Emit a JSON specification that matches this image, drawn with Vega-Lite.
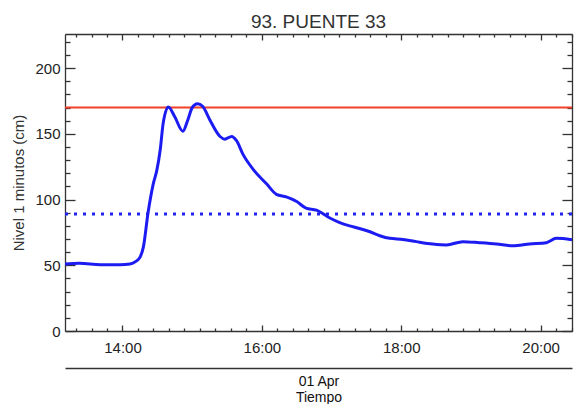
{
  "$schema": "https://vega.github.io/schema/vega-lite/v6.json",
  "width": 507,
  "height": 297,
  "autosize": {"type": "none"},
  "padding": {"left": 65, "top": 34, "right": 2, "bottom": 73},
  "background": "white",
  "title": {"text": "93. PUENTE 33", "fontSize": 19, "font": "Liberation Sans", "fontWeight": "normal", "color": "#333333", "offset": -18, "baseline": "bottom", "anchor": "middle"},
  "config": {
    "view": {"stroke": null},
    "axis": {"domainColor": "#333333", "tickColor": "#333333", "labelColor": "#222222", "titleColor": "#333333", "labelFont": "Liberation Sans", "titleFont": "Liberation Sans", "grid": false, "domainWidth": 1.3, "tickWidth": 1.3}
  },
  "datasets": {
    "nivel": [
      {"tiempo": "2024-04-01T13:10:30", "nivel": 51},
      {"tiempo": "2024-04-01T13:23:00", "nivel": 51.5},
      {"tiempo": "2024-04-01T13:41:00", "nivel": 50.5},
      {"tiempo": "2024-04-01T13:58:00", "nivel": 50.5},
      {"tiempo": "2024-04-01T14:06:30", "nivel": 51},
      {"tiempo": "2024-04-01T14:11:30", "nivel": 53},
      {"tiempo": "2024-04-01T14:15:00", "nivel": 56},
      {"tiempo": "2024-04-01T14:18:00", "nivel": 64},
      {"tiempo": "2024-04-01T14:22:00", "nivel": 90},
      {"tiempo": "2024-04-01T14:26:30", "nivel": 112},
      {"tiempo": "2024-04-01T14:29:30", "nivel": 122},
      {"tiempo": "2024-04-01T14:32:30", "nivel": 138},
      {"tiempo": "2024-04-01T14:35:00", "nivel": 158},
      {"tiempo": "2024-04-01T14:39:30", "nivel": 170.5},
      {"tiempo": "2024-04-01T14:45:00", "nivel": 163},
      {"tiempo": "2024-04-01T14:52:00", "nivel": 152},
      {"tiempo": "2024-04-01T14:56:00", "nivel": 160},
      {"tiempo": "2024-04-01T15:00:00", "nivel": 170},
      {"tiempo": "2024-04-01T15:04:30", "nivel": 173},
      {"tiempo": "2024-04-01T15:09:00", "nivel": 171},
      {"tiempo": "2024-04-01T15:15:00", "nivel": 161},
      {"tiempo": "2024-04-01T15:24:00", "nivel": 148},
      {"tiempo": "2024-04-01T15:28:00", "nivel": 146},
      {"tiempo": "2024-04-01T15:34:00", "nivel": 148},
      {"tiempo": "2024-04-01T15:38:00", "nivel": 145},
      {"tiempo": "2024-04-01T15:44:00", "nivel": 134},
      {"tiempo": "2024-04-01T15:52:30", "nivel": 123},
      {"tiempo": "2024-04-01T16:04:00", "nivel": 112},
      {"tiempo": "2024-04-01T16:12:30", "nivel": 104},
      {"tiempo": "2024-04-01T16:21:00", "nivel": 102},
      {"tiempo": "2024-04-01T16:30:00", "nivel": 98.5},
      {"tiempo": "2024-04-01T16:38:00", "nivel": 93.5},
      {"tiempo": "2024-04-01T16:47:00", "nivel": 92},
      {"tiempo": "2024-04-01T16:58:30", "nivel": 86},
      {"tiempo": "2024-04-01T17:07:00", "nivel": 82.5},
      {"tiempo": "2024-04-01T17:15:30", "nivel": 80},
      {"tiempo": "2024-04-01T17:24:00", "nivel": 78},
      {"tiempo": "2024-04-01T17:33:00", "nivel": 75.5},
      {"tiempo": "2024-04-01T17:41:30", "nivel": 72.5},
      {"tiempo": "2024-04-01T17:50:00", "nivel": 70.5},
      {"tiempo": "2024-04-01T18:01:30", "nivel": 69.7},
      {"tiempo": "2024-04-01T18:13:00", "nivel": 68},
      {"tiempo": "2024-04-01T18:27:00", "nivel": 66.2},
      {"tiempo": "2024-04-01T18:39:00", "nivel": 65.5},
      {"tiempo": "2024-04-01T18:53:00", "nivel": 68},
      {"tiempo": "2024-04-01T19:07:30", "nivel": 67.2},
      {"tiempo": "2024-04-01T19:22:00", "nivel": 66.2},
      {"tiempo": "2024-04-01T19:36:00", "nivel": 64.8},
      {"tiempo": "2024-04-01T19:50:30", "nivel": 66.2},
      {"tiempo": "2024-04-01T20:05:00", "nivel": 67.2},
      {"tiempo": "2024-04-01T20:13:30", "nivel": 70.5},
      {"tiempo": "2024-04-01T20:27:00", "nivel": 69.5}
    ]
  },
  "resolve": {"scale": {"x": "independent", "y": "independent"}, "axis": {"x": "independent", "y": "independent"}},
  "layer": [
    {
      "data": {"values": [{"umbral": 170}]},
      "mark": {"type": "rule", "color": "#f2402b", "strokeWidth": 2},
      "encoding": {
        "y": {"field": "umbral", "type": "quantitative", "scale": {"domain": [0, 226], "nice": false, "zero": false}, "axis": null}
      }
    },
    {
      "data": {"values": [{"umbral": 89}]},
      "mark": {"type": "rule", "color": "#2222f0", "strokeWidth": 3, "strokeDash": [3, 6], "strokeCap": "butt"},
      "encoding": {
        "y": {"field": "umbral", "type": "quantitative", "scale": {"domain": [0, 226], "nice": false, "zero": false}, "axis": null}
      }
    },
    {
      "data": {"name": "nivel"},
      "mark": {"type": "line", "strokeOpacity": 0},
      "encoding": {
        "x": {"field": "tiempo", "type": "temporal",
          "scale": {"domain": [{"year": 2024, "month": 4, "date": 1, "hours": 13, "minutes": 10, "seconds": 30}, {"year": 2024, "month": 4, "date": 1, "hours": 20, "minutes": 27, "seconds": 0}], "nice": false},
          "axis": {"orient": "top", "labels": false, "title": null, "domain": true,
            "values": [
              {"year": 2024, "month": 4, "date": 1, "hours": 13, "minutes": 20, "seconds": 0},
              {"year": 2024, "month": 4, "date": 1, "hours": 13, "minutes": 33, "seconds": 20},
              {"year": 2024, "month": 4, "date": 1, "hours": 13, "minutes": 46, "seconds": 40},
              {"year": 2024, "month": 4, "date": 1, "hours": 14, "minutes": 0, "seconds": 0},
              {"year": 2024, "month": 4, "date": 1, "hours": 14, "minutes": 13, "seconds": 20},
              {"year": 2024, "month": 4, "date": 1, "hours": 14, "minutes": 26, "seconds": 40},
              {"year": 2024, "month": 4, "date": 1, "hours": 14, "minutes": 40, "seconds": 0},
              {"year": 2024, "month": 4, "date": 1, "hours": 14, "minutes": 53, "seconds": 20},
              {"year": 2024, "month": 4, "date": 1, "hours": 15, "minutes": 6, "seconds": 40},
              {"year": 2024, "month": 4, "date": 1, "hours": 15, "minutes": 20, "seconds": 0},
              {"year": 2024, "month": 4, "date": 1, "hours": 15, "minutes": 33, "seconds": 20},
              {"year": 2024, "month": 4, "date": 1, "hours": 15, "minutes": 46, "seconds": 40},
              {"year": 2024, "month": 4, "date": 1, "hours": 16, "minutes": 0, "seconds": 0},
              {"year": 2024, "month": 4, "date": 1, "hours": 16, "minutes": 13, "seconds": 20},
              {"year": 2024, "month": 4, "date": 1, "hours": 16, "minutes": 26, "seconds": 40},
              {"year": 2024, "month": 4, "date": 1, "hours": 16, "minutes": 40, "seconds": 0},
              {"year": 2024, "month": 4, "date": 1, "hours": 16, "minutes": 53, "seconds": 20},
              {"year": 2024, "month": 4, "date": 1, "hours": 17, "minutes": 6, "seconds": 40},
              {"year": 2024, "month": 4, "date": 1, "hours": 17, "minutes": 20, "seconds": 0},
              {"year": 2024, "month": 4, "date": 1, "hours": 17, "minutes": 33, "seconds": 20},
              {"year": 2024, "month": 4, "date": 1, "hours": 17, "minutes": 46, "seconds": 40},
              {"year": 2024, "month": 4, "date": 1, "hours": 18, "minutes": 0, "seconds": 0},
              {"year": 2024, "month": 4, "date": 1, "hours": 18, "minutes": 13, "seconds": 20},
              {"year": 2024, "month": 4, "date": 1, "hours": 18, "minutes": 26, "seconds": 40},
              {"year": 2024, "month": 4, "date": 1, "hours": 18, "minutes": 40, "seconds": 0},
              {"year": 2024, "month": 4, "date": 1, "hours": 18, "minutes": 53, "seconds": 20},
              {"year": 2024, "month": 4, "date": 1, "hours": 19, "minutes": 6, "seconds": 40},
              {"year": 2024, "month": 4, "date": 1, "hours": 19, "minutes": 20, "seconds": 0},
              {"year": 2024, "month": 4, "date": 1, "hours": 19, "minutes": 33, "seconds": 20},
              {"year": 2024, "month": 4, "date": 1, "hours": 19, "minutes": 46, "seconds": 40},
              {"year": 2024, "month": 4, "date": 1, "hours": 20, "minutes": 0, "seconds": 0},
              {"year": 2024, "month": 4, "date": 1, "hours": 20, "minutes": 13, "seconds": 20},
              {"year": 2024, "month": 4, "date": 1, "hours": 20, "minutes": 26, "seconds": 40}
            ],
            "tickSize": {"condition": {"test": "minutes(datum.value) === 0 && hours(datum.value) % 2 === 0", "value": -6}, "value": -3}
          }
        },
        "y": {"field": "nivel", "type": "quantitative", "scale": {"domain": [0, 226], "nice": false, "zero": false},
          "axis": {"orient": "right", "labels": false, "title": null, "domain": true,
            "values": [0, 10, 20, 30, 40, 50, 60, 70, 80, 90, 100, 110, 120, 130, 140, 150, 160, 170, 180, 190, 200, 210, 220],
            "tickSize": {"condition": {"test": "datum.value % 50 === 0", "value": -10}, "value": -5}
          }
        }
      }
    },
    {
      "data": {"name": "nivel"},
      "mark": {"type": "line", "strokeOpacity": 0},
      "encoding": {
        "x": {"field": "tiempo", "type": "temporal",
          "scale": {"domain": [{"year": 2024, "month": 4, "date": 1, "hours": 13, "minutes": 10, "seconds": 30}, {"year": 2024, "month": 4, "date": 1, "hours": 20, "minutes": 27, "seconds": 0}], "nice": false},
          "axis": {"orient": "bottom", "offset": 37, "labels": false, "ticks": false, "domain": true, "domainWidth": 1.5,
            "title": ["01 Apr", "Tiempo"], "titleFontSize": 14, "titleFontWeight": "normal", "titlePadding": 6, "titleLineHeight": 16, "titleColor": "#111111"}
        },
        "y": {"field": "nivel", "type": "quantitative", "scale": {"domain": [0, 226], "nice": false, "zero": false}, "axis": null}
      }
    },
    {
      "data": {"name": "nivel"},
      "mark": {"type": "line", "color": "#1c1cf2", "strokeWidth": 3, "clip": true, "interpolate": "monotone"},
      "encoding": {
        "x": {"field": "tiempo", "type": "temporal",
          "scale": {"domain": [{"year": 2024, "month": 4, "date": 1, "hours": 13, "minutes": 10, "seconds": 30}, {"year": 2024, "month": 4, "date": 1, "hours": 20, "minutes": 27, "seconds": 0}], "nice": false},
          "axis": {"orient": "bottom", "title": null, "domain": true, "labelFontSize": 15, "labelPadding": 15, "labelFlush": false, "labelOverlap": false,
            "values": [
              {"year": 2024, "month": 4, "date": 1, "hours": 13, "minutes": 20, "seconds": 0},
              {"year": 2024, "month": 4, "date": 1, "hours": 13, "minutes": 33, "seconds": 20},
              {"year": 2024, "month": 4, "date": 1, "hours": 13, "minutes": 46, "seconds": 40},
              {"year": 2024, "month": 4, "date": 1, "hours": 14, "minutes": 0, "seconds": 0},
              {"year": 2024, "month": 4, "date": 1, "hours": 14, "minutes": 13, "seconds": 20},
              {"year": 2024, "month": 4, "date": 1, "hours": 14, "minutes": 26, "seconds": 40},
              {"year": 2024, "month": 4, "date": 1, "hours": 14, "minutes": 40, "seconds": 0},
              {"year": 2024, "month": 4, "date": 1, "hours": 14, "minutes": 53, "seconds": 20},
              {"year": 2024, "month": 4, "date": 1, "hours": 15, "minutes": 6, "seconds": 40},
              {"year": 2024, "month": 4, "date": 1, "hours": 15, "minutes": 20, "seconds": 0},
              {"year": 2024, "month": 4, "date": 1, "hours": 15, "minutes": 33, "seconds": 20},
              {"year": 2024, "month": 4, "date": 1, "hours": 15, "minutes": 46, "seconds": 40},
              {"year": 2024, "month": 4, "date": 1, "hours": 16, "minutes": 0, "seconds": 0},
              {"year": 2024, "month": 4, "date": 1, "hours": 16, "minutes": 13, "seconds": 20},
              {"year": 2024, "month": 4, "date": 1, "hours": 16, "minutes": 26, "seconds": 40},
              {"year": 2024, "month": 4, "date": 1, "hours": 16, "minutes": 40, "seconds": 0},
              {"year": 2024, "month": 4, "date": 1, "hours": 16, "minutes": 53, "seconds": 20},
              {"year": 2024, "month": 4, "date": 1, "hours": 17, "minutes": 6, "seconds": 40},
              {"year": 2024, "month": 4, "date": 1, "hours": 17, "minutes": 20, "seconds": 0},
              {"year": 2024, "month": 4, "date": 1, "hours": 17, "minutes": 33, "seconds": 20},
              {"year": 2024, "month": 4, "date": 1, "hours": 17, "minutes": 46, "seconds": 40},
              {"year": 2024, "month": 4, "date": 1, "hours": 18, "minutes": 0, "seconds": 0},
              {"year": 2024, "month": 4, "date": 1, "hours": 18, "minutes": 13, "seconds": 20},
              {"year": 2024, "month": 4, "date": 1, "hours": 18, "minutes": 26, "seconds": 40},
              {"year": 2024, "month": 4, "date": 1, "hours": 18, "minutes": 40, "seconds": 0},
              {"year": 2024, "month": 4, "date": 1, "hours": 18, "minutes": 53, "seconds": 20},
              {"year": 2024, "month": 4, "date": 1, "hours": 19, "minutes": 6, "seconds": 40},
              {"year": 2024, "month": 4, "date": 1, "hours": 19, "minutes": 20, "seconds": 0},
              {"year": 2024, "month": 4, "date": 1, "hours": 19, "minutes": 33, "seconds": 20},
              {"year": 2024, "month": 4, "date": 1, "hours": 19, "minutes": 46, "seconds": 40},
              {"year": 2024, "month": 4, "date": 1, "hours": 20, "minutes": 0, "seconds": 0},
              {"year": 2024, "month": 4, "date": 1, "hours": 20, "minutes": 13, "seconds": 20},
              {"year": 2024, "month": 4, "date": 1, "hours": 20, "minutes": 26, "seconds": 40}
            ],
            "labelExpr": "minutes(datum.value) === 0 && hours(datum.value) % 2 === 0 ? timeFormat(datum.value, '%H:%M') : ''",
            "tickSize": {"condition": {"test": "minutes(datum.value) === 0 && hours(datum.value) % 2 === 0", "value": -6}, "value": -3}
          }
        },
        "y": {"field": "nivel", "type": "quantitative", "scale": {"domain": [0, 226], "nice": false, "zero": false},
          "axis": {"orient": "left", "domain": true, "labelFontSize": 15, "labelPadding": 15, "labelOverlap": false,
            "values": [0, 10, 20, 30, 40, 50, 60, 70, 80, 90, 100, 110, 120, 130, 140, 150, 160, 170, 180, 190, 200, 210, 220],
            "labelExpr": "datum.value % 50 === 0 ? datum.label : ''",
            "tickSize": {"condition": {"test": "datum.value % 50 === 0", "value": -10}, "value": -5},
            "title": "Nivel 1 minutos (cm)", "titleFontSize": 15, "titleFontWeight": "normal", "titlePadding": 8
          }
        }
      }
    }
  ]
}
